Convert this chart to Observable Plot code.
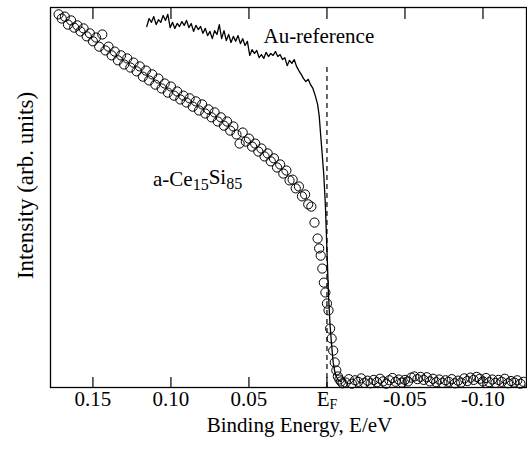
<!DOCTYPE html>
<html>
<head>
<meta charset="utf-8">
<script src="https://cdn.jsdelivr.net/npm/d3@7"></script>
<script src="https://cdn.jsdelivr.net/npm/@observablehq/plot@0.6"></script>
<style>
  html, body { margin: 0; padding: 0; background: #fff; }
</style>
</head>
<body>
<script>
// Tick positions and labels (binding energy, eV; axis reversed)
const tickValues = [0.15, 0.10, 0.05, 0, -0.05, -0.10];
const tickLabels = ["0.15", "0.10", "0.05", "EF", "-0.05", "-0.10"];

// a-Ce15Si85 spectrum (open circles)
const ceE = [
  0.172,0.170,0.168,0.166,0.164,0.162,0.160,0.158,0.156,0.154,0.152,0.150,0.148,0.146,0.144,0.142,0.140,0.138,0.136,0.134,
  0.132,0.130,0.128,0.126,0.124,0.122,0.120,0.118,0.116,0.114,0.112,0.110,0.108,0.106,0.104,0.102,0.100,0.098,0.096,0.094,
  0.092,0.090,0.088,0.086,0.084,0.082,0.080,0.078,0.076,0.074,0.072,0.070,0.068,0.066,0.064,0.062,0.060,0.058,0.056,0.054,
  0.052,0.050,0.048,0.046,0.044,0.042,0.040,0.038,0.036,0.034,0.032,0.030,0.028,0.026,0.024,0.022,0.020,0.018,0.016,0.014,
  0.012,0.010,0.008,0.006,
  0.005,0.004,0.003,0.002,0.001,0.000,-0.001,-0.002,-0.003,-0.004,-0.005,-0.006,-0.007,-0.008,-0.009,-0.010,
  -0.012,-0.014,-0.016,-0.018,-0.020,-0.022,-0.024,-0.026,-0.028,-0.030,-0.032,-0.034,-0.036,-0.038,-0.040,-0.042,-0.044,-0.046,-0.048,-0.050,
  -0.052,-0.054,-0.056,-0.058,-0.060,-0.062,-0.064,-0.066,-0.068,-0.070,-0.072,-0.074,-0.076,-0.078,-0.080,-0.082,-0.084,-0.086,-0.088,-0.090,
  -0.092,-0.094,-0.096,-0.098,-0.100,-0.102,-0.104,-0.106,-0.108,-0.110,-0.112,-0.114,-0.116,-0.118,-0.120,-0.122,-0.124,-0.126
];
const ceI = [
  98.2,97.1,97.6,95.5,96.6,94.7,95.3,93.7,94.5,92.4,93.2,91.1,92.1,89.7,92.9,88.7,89.7,87.4,88.4,86.1,
  87.4,85.0,86.6,84.2,85.5,83.2,84.5,81.8,83.4,80.8,82.4,79.7,81.3,78.7,80.0,77.6,79.2,76.8,77.9,75.8,
  76.8,75.0,76.1,73.9,75.3,72.9,74.5,72.1,73.2,71.1,72.4,70.0,71.1,68.9,70.0,67.6,68.7,66.6,64.2,67.1,
  64.7,65.5,63.4,64.2,62.1,62.9,60.8,61.6,59.5,60.3,57.9,58.7,56.3,57.1,54.5,54.7,52.4,52.9,50.3,50.8,
  48.2,47.6,43.4,39.2,
  36.6,34.7,31.3,27.6,25.0,22.1,20.3,15.5,12.9,9.7,6.6,4.5,2.9,2.1,1.6,1.1,
  1.3,2.2,1.0,1.9,1.5,2.4,1.2,1.8,1.1,2.0,1.4,2.3,1.6,1.0,1.9,2.5,1.5,2.1,1.3,2.0,
  1.6,2.6,2.9,2.2,2.8,2.0,2.7,1.6,2.3,1.4,2.1,1.2,1.9,1.5,2.2,1.1,1.8,1.3,2.4,1.7,
  2.6,2.0,2.8,2.3,1.6,2.5,1.4,2.1,1.2,2.0,1.5,2.3,1.1,1.7,1.3,1.9,1.0,1.5
];

// Au reference spectrum (solid line)
const auE = [
  0.1155,0.1140,0.1125,0.1110,0.1095,0.1080,0.1065,0.1050,0.1035,0.1020,0.1005,0.0990,0.0975,0.0960,0.0945,0.0930,0.0915,0.0900,0.0885,0.0870,
  0.0855,0.0840,0.0825,0.0810,0.0795,0.0780,0.0765,0.0750,0.0735,0.0720,0.0705,0.0690,0.0675,0.0660,0.0645,0.0630,0.0615,0.0600,0.0585,0.0570,
  0.0555,0.0540,0.0525,0.0510,0.0495,0.0480,0.0465,0.0450,0.0435,0.0420,0.0405,0.0390,0.0375,0.0360,0.0345,0.0330,0.0315,0.0300,0.0285,0.0270,
  0.0255,0.0240,0.0225,0.0210,0.0195,0.0180,0.0165,0.0150,0.0135,0.0120,0.0105,0.0090,0.0075,0.0060,
  0.005,0.004,0.003,0.002,0.001,0.000,-0.001,-0.002,-0.003,-0.004,-0.005,-0.006,-0.007,-0.008,-0.009
];
const auI = [
  95.0,97.1,96.1,97.6,95.5,96.8,96.1,97.9,96.6,98.2,94.7,96.1,94.5,95.8,95.0,96.3,95.3,96.6,94.7,95.8,
  93.7,95.3,94.2,95.0,93.2,94.5,92.6,93.7,91.8,93.9,92.9,95.5,91.8,93.9,91.3,92.9,90.8,92.4,91.1,92.6,
  90.5,91.8,90.0,91.1,87.4,88.9,87.9,88.7,86.8,87.6,86.6,88.2,87.1,87.9,87.4,88.4,87.1,87.6,86.3,86.8,
  84.7,86.1,85.3,86.3,84.5,83.4,82.4,81.3,80.5,81.1,79.7,78.7,76.8,74.5,
  71.6,66.3,61.1,55.8,47.9,36.1,24.2,16.3,11.1,6.6,4.2,2.9,2.1,1.8,1.6
];

// Fermi level marker (dashed) and annotations
const fermiE = [0];
const fermiTop = [84.7];
const labelText = ["Au-reference", "a-Ce15Si85"];
const labelE = [0.0407, 0.1115];
const labelI = [92.3, 54.9];

const ce = ceE.map((e, i) => ({e, v: ceI[i]}));
const au = auE.map((e, i) => ({e, v: auI[i]}));
const fermi = fermiE.map((e, i) => ({e, top: fermiTop[i]}));
const labels = labelText.map((t, i) => ({t, e: labelE[i], v: labelI[i]}));

const W = 527, H = 450;
const plot = Plot.plot({
  width: W,
  height: H,
  marginLeft: 50,
  marginRight: 1,
  marginTop: 7,
  marginBottom: 63,
  style: {fontFamily: "'Liberation Serif', 'Times New Roman', serif", fontSize: "21px", background: "#fff", color: "#000"},
  x: {
    domain: [0.1772, -0.1279],
    ticks: tickValues,
    tickFormat: d => tickLabels[tickValues.findIndex(t => Math.abs(t - d) < 1e-9)],
    tickSize: 0,
    tickPadding: 4,
    label: null
  },
  y: {domain: [0, 100], axis: null},
  marks: [
    Plot.tickX(tickValues, {x: d => d, insetTop: 370, stroke: "#000", strokeWidth: 1.2}),
    Plot.tickX(tickValues, {x: d => d, insetBottom: 368, stroke: "#000", strokeWidth: 1.2}),
    Plot.ruleX(fermi, {x: "e", y1: 0, y2: "top", stroke: "#000", strokeWidth: 1.2, strokeDasharray: "5,4"}),
    Plot.line(au, {x: "e", y: "v", stroke: "#000", strokeWidth: 1.3}),
    Plot.dot(ce, {x: "e", y: "v", r: 4.6, stroke: "#000", strokeWidth: 1, fill: "none"}),
    Plot.text(labels, {x: "e", y: "v", text: "t", textAnchor: "start", fontSize: 21, fill: "#000"}),
    Plot.text(["Binding Energy, E/eV"], {frameAnchor: "bottom", textAnchor: "middle", lineAnchor: "middle", dx: 11, dy: 38, fontSize: 21, fill: "#000"}),
    Plot.text(["Intensity (arb. units)"], {frameAnchor: "left", textAnchor: "middle", lineAnchor: "middle", dx: -25, dy: -12, rotate: -90, fontSize: 23, fill: "#000"}),
    Plot.frame({stroke: "#000", strokeWidth: 1.3})
  ]
});

// Subscripts as real text
d3.select(plot).selectAll("text").each(function () {
  const t = this.textContent;
  const sel = d3.select(this);
  if (t === "EF") {
    sel.text("");
    sel.append("tspan").text("E");
    sel.append("tspan").attr("dy", "0.22em").attr("font-size", "14px").text("F");
  } else if (t === "a-Ce15Si85") {
    sel.text("");
    sel.append("tspan").text("a-Ce");
    sel.append("tspan").attr("dy", "0.28em").attr("font-size", "16px").text("15");
    sel.append("tspan").attr("dy", "-0.28em").text("Si");
    sel.append("tspan").attr("dy", "0.28em").attr("font-size", "16px").text("85");
  }
});

document.body.append(plot);
</script>
</body>
</html>
